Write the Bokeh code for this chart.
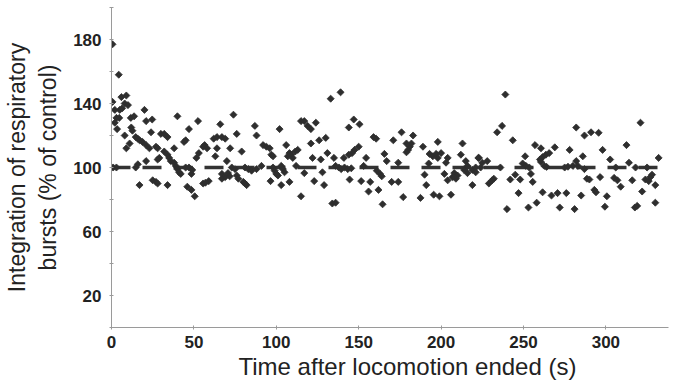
from bokeh.plotting import figure
from bokeh.models import Range1d, FixedTicker, Title
from bokeh.embed import file_html
from bokeh.resources import INLINE
import math

# --- data ---
time_s = [
    0.6, 4.4, 0.6, 6, 9, 8, 10, 5, 6.5, 3, 4.7, 3.4, 8, 2, 2,
    11.7, 13.7, 12, 12.7, 14.7, 16, 17, 18.8, 20, 21, 24.7, 11, 9, 21, 23,
    24, 27, 28, 30, 32, 34, 29, 28, 32, 34, 35, 38, 40, 44, 45, 47, 52.5,
    36, 38, 39, 40, 41, 42, 45, 47, 49, 48.5, 51.5, 53, 55.6, 56.5,
    16, 14.7, 21, 17, 25, 27, 28, 34, 46, 48.5, 50.5, 55.6, 1, 3,
    74, 66, 87, 102, 76, 88, 62, 64, 67, 69, 115, 58, 64, 72, 79, 63,
    92, 94, 96, 97, 98, 106, 108, 109, 111.5, 113, 70, 73, 75, 81, 83, 85,
    88, 91, 67, 69, 67, 70.7, 71.7, 59, 57, 76, 77, 80, 81, 82, 98, 99,
    100, 101, 103, 104, 105, 112, 96.5, 103, 108, 115,
    133, 139, 117, 119, 121, 124, 147, 150.5, 144, 159, 160.6, 176, 183,
    171, 198, 213, 130, 126, 121, 150, 147.5, 146, 144, 179, 181, 182,
    180, 179, 189, 131, 135, 141, 154.5, 165.6, 107, 110, 122, 127, 193,
    195, 197, 200, 198, 204, 203, 212, 215, 223, 167, 174, 192.5, 153,
    117, 128, 136, 138, 139.4, 141.4, 143.4, 145.5, 161, 163, 164, 170,
    174, 190, 202, 208, 210, 209, 207, 216, 219, 221, 216, 204, 191, 219,
    123, 129, 144.5, 151.5, 157, 134, 136, 156, 162, 164.5, 177, 187.5,
    195.5, 199, 206,
    239, 237, 234, 243.5, 321, 282, 287, 291, 295.6, 257, 260.6, 269, 278,
    312.5, 222.6, 228, 225, 224, 221, 214, 251, 249.5, 251.5, 253.5, 260,
    261.6, 263.6, 265.6, 260.6, 262.6, 264, 275, 277, 280, 282, 283, 286,
    298, 302.6, 314, 332, 296.5, 288.5, 290, 305, 307, 309, 316, 324, 326,
    328, 327, 330, 322, 330, 317.6, 319, 299.4, 300.6, 293, 294, 285, 281,
    276, 272, 267, 270.7, 261.6, 258, 253, 247, 240, 242, 245, 248, 254.5,
    255.6, 229, 231, 232, 236, 287, 306, 318, 325,
]
burst_pct = [
    177, 158, 141, 144, 145, 140, 139, 136, 137, 131, 131, 124, 120, 136, 128,
    131, 132, 125, 123, 119, 118, 117, 116, 136, 129, 130, 115, 112, 114, 112,
    122, 113, 112, 121, 121, 119, 106, 105, 110, 108, 106, 112, 132, 116, 117, 124, 129,
    104, 103, 101, 99, 97, 96, 100, 100, 98.5, 96, 106, 109, 113, 114,
    102, 100, 104, 89, 92, 91, 90, 89, 88, 86, 82, 90, 100, 100,
    133, 127, 126, 124, 121, 120, 118, 119, 119, 118, 129, 112, 112, 112, 110, 107,
    114, 113, 112, 108, 107, 114, 109, 108, 110, 111, 104, 100, 99, 100, 99, 98,
    99, 101, 96, 94, 93, 96.5, 94.5, 91.5, 90.5, 95, 93, 91, 90, 89, 100, 98,
    96, 95, 101, 99, 97, 101, 91.5, 89, 91, 82,
    143, 147, 129, 126, 124, 128, 130, 127, 125, 119, 118, 122, 120,
    117, 116, 115, 118.5, 117, 115, 113, 111, 109, 108, 115, 113, 115,
    111, 109.5, 113, 109, 106, 106, 106, 108.5, 107, 106, 106, 105, 108.5,
    107, 108.5, 109, 106, 106, 103, 108, 104, 106, 104, 103, 102.5, 101,
    96.5, 97, 101, 100, 99, 100, 99, 99.5, 98, 96, 94.5, 91,
    91, 95.5, 96, 96.5, 95, 93, 94, 96.5, 98.5, 100, 101, 92, 89, 89,
    91.5, 89, 92.5, 91.5, 91, 77.5, 78, 85, 86, 77, 81.5, 81,
    83, 82, 83,
    145.6, 126, 122, 117, 128, 125, 120, 122, 121.7, 114, 112, 112.6, 111,
    114, 106, 104, 103, 100, 97, 98.5, 107, 102.5, 101, 100, 105,
    106.5, 108, 109, 103.5, 101, 100.4, 100, 100.5, 101, 104, 101, 107,
    111, 105, 103, 106, 94, 93, 92.5, 93.5, 92, 88, 92, 92.5, 91.5,
    95.5, 94, 89, 85, 78, 75, 76, 75.5, 82, 86, 84.5, 82.5, 74,
    84, 75, 82.5, 84, 84.5, 78, 75, 84, 74, 92.5, 95.5, 92.5, 96,
    91, 90, 92, 93, 100, 99, 100, 100, 100,
]
ref_x = [0, 333]
ref_y = [100, 100]
x_ticks = [0, 50, 100, 150, 200, 250, 300]
y_ticks = [20, 60, 100, 140, 180]
y_minor = [0, 40, 80, 120, 160, 200]
x_title = "Time after locomotion ended (s)"
y_title = "Integration of respiratory\nbursts (% of control)"

p = figure(width=680, height=390, output_backend="svg", toolbar_location=None,
           x_range=Range1d(0, 338), y_range=Range1d(0, 200),
           min_border_left=110, min_border_right=12, min_border_top=7,
           min_border_bottom=63)
p.outline_line_color = None
p.xgrid.visible = False
p.ygrid.visible = False
p.background_fill_color = "white"
p.border_fill_color = "white"

p.line(ref_x, ref_y, line_color="#333333", line_width=3.5, line_dash="19 12")
p.scatter(time_s, burst_pct, marker="square", angle=math.pi / 4, size=5,
          fill_color="#2e2e2e", line_color="#2e2e2e", line_width=0.8)

font = "Liberation Sans"
p.xaxis.ticker = FixedTicker(ticks=x_ticks)
p.yaxis.ticker = FixedTicker(ticks=y_ticks, minor_ticks=y_minor)
for ax in (p.xaxis[0], p.yaxis[0]):
    ax.axis_line_color = "#9a9a9a"
    ax.axis_line_width = 1
    ax.major_tick_line_color = "#9a9a9a"
    ax.minor_tick_line_color = "#9a9a9a"
    ax.major_tick_in = 2
    ax.major_tick_out = 2
    ax.minor_tick_in = 2
    ax.minor_tick_out = 2
    ax.major_label_text_font = font
    ax.major_label_text_font_size = "17px"
    ax.major_label_text_font_style = "bold"
    ax.major_label_text_color = "#222222"
    ax.axis_label_text_font = font
    ax.axis_label_text_font_size = "23px"
    ax.axis_label_text_font_style = "normal"
    ax.axis_label_text_color = "#222222"
p.xaxis.minor_tick_line_color = None
p.xaxis.major_label_standoff = 6
p.yaxis.major_label_standoff = 8
p.yaxis.axis_label = y_title
p.yaxis.axis_label_standoff = 9

# x-axis title, slightly right of centre as in the reference
p.add_layout(Title(text=x_title, align="left", offset=127,
                   text_font=font, text_font_size="24px",
                   text_font_style="normal", text_color="#222222",
                   standoff=0), "below")

open("out.html", "w").write(file_html(p, INLINE))
